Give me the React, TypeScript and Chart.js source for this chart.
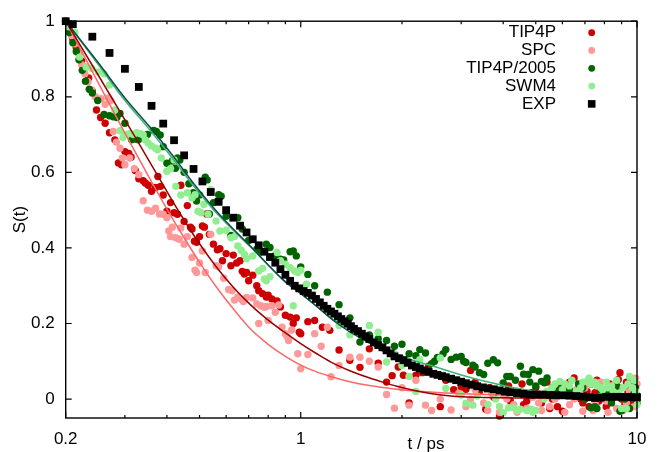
import React, { useEffect, useRef } from 'react';
import { Chart, registerables } from 'chart.js';

Chart.register(...registerables);

// ---------- axis ticks ----------
const X_LABEL_TICKS = [0.2, 1, 10];
const X_MINOR_TICKS = [0.3, 0.4, 0.5, 0.6, 0.7, 0.8, 0.9, 2, 3, 4, 5, 6, 7, 8, 9];
const Y_TICKS = [0, 0.2, 0.4, 0.6, 0.8, 1];

// ---------- series: [t (ps), S(t)] ----------
const TIP4P: [number, number][] = [
  [0.2, 1.0], [0.205, 0.975], [0.21, 0.953], [0.215, 0.93], [0.219, 0.915], [0.223, 0.895],
  [0.228, 0.878], [0.234, 0.85], [0.24, 0.815], [0.247, 0.765], [0.254, 0.745], [0.262, 0.73],
  [0.27, 0.705], [0.28, 0.686], [0.287, 0.625], [0.293, 0.62], [0.3, 0.655], [0.308, 0.65],
  [0.313, 0.64], [0.322, 0.605], [0.33, 0.583], [0.34, 0.578], [0.345, 0.572], [0.352, 0.566],
  [0.36, 0.55], [0.37, 0.56], [0.376, 0.589], [0.383, 0.563], [0.39, 0.54], [0.4, 0.497],
  [0.41, 0.52], [0.42, 0.493], [0.43, 0.489], [0.44, 0.566], [0.45, 0.47], [0.46, 0.512],
  [0.47, 0.455], [0.475, 0.45], [0.483, 0.418], [0.49, 0.415], [0.5, 0.43], [0.51, 0.458],
  [0.517, 0.455], [0.525, 0.49], [0.535, 0.436], [0.55, 0.41], [0.565, 0.395], [0.575, 0.398],
  [0.585, 0.366], [0.6, 0.385], [0.62, 0.353], [0.63, 0.381], [0.645, 0.36], [0.66, 0.366],
  [0.67, 0.338], [0.68, 0.331], [0.69, 0.335], [0.7, 0.313], [0.72, 0.328], [0.74, 0.3],
  [0.75, 0.287], [0.77, 0.279], [0.79, 0.27], [0.8, 0.275], [0.82, 0.265], [0.85, 0.26],
  [0.87, 0.244], [0.9, 0.222], [0.93, 0.217], [0.95, 0.2], [0.97, 0.215], [0.99, 0.177],
  [1.0, 0.173], [1.05, 0.205], [1.1, 0.208], [1.16, 0.19], [1.22, 0.182], [1.3, 0.13],
  [1.4, 0.103], [1.5, 0.084], [1.6, 0.133], [1.7, 0.095], [1.8, 0.045], [1.87, 0.062],
  [1.95, 0.085], [2.02, 0.063], [2.1, -0.01], [2.2, 0.063], [2.3, 0.07], [2.4, 0.087],
  [2.6, -0.02], [2.7, 0.05], [2.85, 0.025], [3.0, 0.032], [3.1, 0.026], [3.2, 0.076],
  [3.3, 0.045], [3.4, 0.02], [3.55, -0.027], [3.65, 0.03], [3.75, 0.005], [3.9, -0.045],
  [4.05, 0.01], [4.15, 0.035], [4.2, -0.005], [4.4, 0.02], [4.55, 0.04], [4.6, -0.015],
  [4.7, -0.005], [4.85, 0.017], [5.0, 0.03], [5.1, 0.012], [5.2, -0.01], [5.4, 0.045],
  [5.5, -0.025], [5.6, 0.0], [5.8, -0.02], [5.9, 0.02], [6.0, -0.032], [6.2, 0.01],
  [6.3, 0.045], [6.5, 0.056], [6.7, 0.03], [6.8, 0.0], [6.9, -0.01], [7.1, 0.02],
  [7.2, -0.02], [7.3, 0.04], [7.5, 0.017], [7.6, 0.05], [7.7, -0.005], [7.9, 0.025],
  [8.0, 0.0], [8.1, -0.02], [8.3, 0.04], [8.4, 0.01], [8.6, 0.03], [8.8, 0.052],
  [8.9, 0.07], [9.0, 0.0], [9.2, -0.015], [9.3, 0.045], [9.4, 0.02], [9.6, 0.034],
  [9.7, -0.01], [9.8, 0.05], [10.0, 0.01],
];

const SPC: [number, number][] = [
  [0.2, 1.0], [0.204, 0.98], [0.208, 0.962], [0.213, 0.94], [0.218, 0.915], [0.223, 0.885],
  [0.228, 0.861], [0.233, 0.84], [0.239, 0.818], [0.245, 0.8], [0.255, 0.795], [0.262, 0.78],
  [0.268, 0.797], [0.272, 0.79], [0.277, 0.708], [0.283, 0.68], [0.29, 0.664], [0.295, 0.638],
  [0.3, 0.62], [0.31, 0.638], [0.32, 0.61], [0.33, 0.594], [0.34, 0.525], [0.35, 0.5],
  [0.36, 0.497], [0.37, 0.505], [0.38, 0.49], [0.39, 0.489], [0.4, 0.48], [0.405, 0.445],
  [0.41, 0.43], [0.415, 0.455], [0.425, 0.427], [0.435, 0.423], [0.44, 0.453], [0.45, 0.41],
  [0.46, 0.43], [0.475, 0.375], [0.485, 0.341], [0.49, 0.335], [0.5, 0.36], [0.51, 0.392],
  [0.52, 0.335], [0.54, 0.436], [0.56, 0.353], [0.57, 0.35], [0.59, 0.32], [0.61, 0.29],
  [0.625, 0.287], [0.635, 0.262], [0.65, 0.27], [0.665, 0.265], [0.675, 0.258], [0.69, 0.269],
  [0.72, 0.268], [0.74, 0.252], [0.75, 0.2], [0.76, 0.247], [0.78, 0.243], [0.79, 0.245],
  [0.8, 0.208], [0.82, 0.247], [0.84, 0.23], [0.86, 0.249], [0.88, 0.19], [0.9, 0.173],
  [0.91, 0.166], [0.92, 0.155], [0.94, 0.183], [0.98, 0.12], [1.0, 0.08], [1.05, 0.118],
  [1.1, 0.173], [1.15, 0.14], [1.2, 0.19], [1.23, 0.059], [1.3, 0.089], [1.4, 0.111],
  [1.5, 0.111], [1.6, 0.1], [1.7, 0.085], [1.8, 0.012], [1.9, -0.024], [2.0, 0.03],
  [2.1, -0.016], [2.2, 0.05], [2.35, -0.016], [2.45, -0.03], [2.6, 0.0], [2.8, -0.029],
  [2.95, 0.015], [3.1, -0.02], [3.2, 0.0], [3.3, 0.025], [3.5, -0.01], [3.6, -0.03],
  [3.7, 0.015], [3.9, -0.035], [4.0, 0.01], [4.1, 0.0], [4.3, -0.015], [4.4, -0.035],
  [4.5, 0.02], [4.7, -0.025], [4.8, 0.01], [4.9, 0.005], [5.1, -0.01], [5.2, -0.03],
  [5.3, 0.015], [5.5, -0.02], [5.6, 0.01], [5.7, 0.0], [6.0, 0.01], [6.1, -0.035],
  [6.3, -0.015], [6.5, 0.0], [6.6, 0.025], [6.9, -0.032], [7.0, 0.03], [7.2, 0.005],
  [7.4, -0.03], [7.5, -0.01], [7.8, 0.045], [7.9, 0.01], [8.1, -0.005], [8.2, -0.035],
  [8.4, 0.02], [8.6, 0.04], [8.7, -0.025], [9.0, 0.03], [9.1, -0.03], [9.3, -0.01],
  [9.5, 0.02], [9.6, 0.05], [9.8, -0.02], [9.9, 0.055], [10.0, 0.04],
];

const TIP4P2005: [number, number][] = [
  [0.2, 1.0], [0.205, 0.97], [0.21, 0.943], [0.215, 0.92], [0.219, 0.898], [0.224, 0.87],
  [0.229, 0.841], [0.235, 0.82], [0.24, 0.81], [0.249, 0.79], [0.26, 0.753], [0.27, 0.75],
  [0.277, 0.747], [0.284, 0.745], [0.29, 0.756], [0.3, 0.73], [0.314, 0.686], [0.322, 0.688],
  [0.329, 0.686], [0.35, 0.7], [0.365, 0.711], [0.372, 0.708], [0.382, 0.699], [0.39, 0.668],
  [0.4, 0.624], [0.415, 0.63], [0.424, 0.611], [0.43, 0.638], [0.437, 0.633], [0.45, 0.6],
  [0.465, 0.57], [0.479, 0.546], [0.49, 0.524], [0.5, 0.54], [0.52, 0.587], [0.527, 0.58],
  [0.535, 0.49], [0.55, 0.52], [0.57, 0.541], [0.58, 0.537], [0.6, 0.484], [0.62, 0.433],
  [0.65, 0.48], [0.67, 0.45], [0.7, 0.42], [0.74, 0.397], [0.76, 0.39], [0.79, 0.41],
  [0.81, 0.401], [0.84, 0.38], [0.87, 0.37], [0.89, 0.368], [0.93, 0.39], [0.95, 0.392],
  [0.97, 0.379], [1.0, 0.35], [1.05, 0.33], [1.1, 0.3], [1.2, 0.283], [1.3, 0.25],
  [1.4, 0.215], [1.5, 0.151], [1.6, 0.17], [1.7, 0.16], [1.8, 0.155], [1.9, 0.14],
  [2.0, 0.145], [2.1, 0.12], [2.2, 0.115], [2.26, 0.131], [2.35, 0.122], [2.45, 0.094],
  [2.5, 0.1], [2.55, 0.11], [2.65, 0.12], [2.7, 0.131], [2.8, 0.105], [2.9, 0.111],
  [3.0, 0.113], [3.05, 0.1], [3.1, 0.097], [3.25, 0.09], [3.3, 0.085], [3.4, 0.07],
  [3.5, 0.065], [3.6, 0.095], [3.74, 0.104], [3.85, 0.096], [4.0, 0.043], [4.1, 0.06],
  [4.2, 0.06], [4.35, 0.05], [4.5, 0.087], [4.6, 0.066], [4.75, 0.065], [4.8, 0.045],
  [4.9, 0.078], [5.0, 0.035], [5.1, 0.074], [5.2, 0.047], [5.3, 0.043], [5.4, 0.056],
  [5.6, 0.03], [5.7, 0.02], [5.9, 0.035], [6.1, 0.03], [6.3, 0.025], [6.4, 0.01],
  [6.7, 0.04], [6.9, 0.03], [7.0, 0.0], [7.3, -0.023], [7.5, -0.02], [7.6, -0.025],
  [7.8, 0.025], [8.1, 0.01], [8.3, 0.02], [8.4, -0.01], [8.7, 0.035], [8.9, -0.032],
  [9.0, -0.03], [9.2, 0.0], [9.5, -0.025], [9.6, 0.04], [9.8, 0.015], [9.9, 0.03],
  [10.0, -0.01],
];

const SWM4: [number, number][] = [
  [0.2, 1.0], [0.205, 0.985], [0.213, 0.97], [0.22, 0.905], [0.23, 0.879], [0.239, 0.875],
  [0.25, 0.866], [0.26, 0.861], [0.27, 0.831], [0.28, 0.765], [0.29, 0.71], [0.296, 0.692],
  [0.302, 0.7], [0.31, 0.703], [0.318, 0.7], [0.325, 0.705], [0.333, 0.703], [0.34, 0.699],
  [0.345, 0.686], [0.352, 0.677], [0.36, 0.67], [0.37, 0.664], [0.375, 0.66], [0.385, 0.638],
  [0.4, 0.603], [0.41, 0.61], [0.42, 0.633], [0.425, 0.563], [0.44, 0.54], [0.46, 0.546],
  [0.475, 0.532], [0.485, 0.541], [0.495, 0.497], [0.505, 0.493], [0.515, 0.515], [0.53, 0.489],
  [0.54, 0.554], [0.56, 0.471], [0.575, 0.445], [0.6, 0.447], [0.62, 0.427], [0.635, 0.43],
  [0.65, 0.405], [0.665, 0.394], [0.68, 0.383], [0.69, 0.372], [0.72, 0.379], [0.75, 0.339],
  [0.77, 0.346], [0.78, 0.318], [0.79, 0.313], [0.81, 0.324], [0.85, 0.388], [0.87, 0.366],
  [0.9, 0.357], [0.93, 0.348], [0.95, 0.247], [0.96, 0.339], [0.98, 0.335], [1.0, 0.341],
  [1.02, 0.284], [1.04, 0.304], [1.1, 0.267], [1.2, 0.24], [1.3, 0.195], [1.4, 0.17],
  [1.5, 0.175], [1.6, 0.195], [1.7, 0.177], [1.8, 0.098], [1.9, 0.12], [2.0, 0.089],
  [2.1, 0.06], [2.2, 0.02], [2.26, 0.104], [2.4, 0.07], [2.6, 0.109], [2.7, 0.028],
  [2.85, 0.05], [3.0, 0.011], [3.1, -0.011], [3.25, -0.016], [3.35, 0.008], [3.5, 0.03],
  [3.6, -0.014], [3.8, 0.0], [3.9, -0.02], [4.0, -0.036], [4.15, -0.023], [4.3, -0.023],
  [4.4, -0.03], [4.5, -0.027], [4.7, -0.03], [4.85, -0.027], [4.9, -0.035], [5.0, -0.03],
  [5.2, 0.01], [5.3, 0.0], [5.4, 0.02], [5.6, 0.03], [5.7, 0.04], [5.9, 0.047],
  [6.0, 0.025], [6.1, 0.04], [6.3, 0.035], [6.4, 0.05], [6.6, 0.02], [6.8, 0.03],
  [6.9, 0.045], [7.1, 0.047], [7.2, 0.055], [7.3, 0.04], [7.5, 0.045], [7.6, 0.035],
  [7.8, 0.03], [7.9, 0.025], [8.1, 0.045], [8.2, 0.03], [8.4, 0.035], [8.5, 0.02],
  [8.7, 0.05], [8.8, 0.015], [9.0, -0.025], [9.1, 0.03], [9.3, -0.025], [9.4, 0.04],
  [9.5, 0.06], [9.7, 0.03], [9.8, 0.05], [9.9, 0.02], [10.0, -0.015],
];

const EXP: [number, number][] = [
  [0.2, 1.0], [0.21, 0.992], [0.24, 0.959], [0.27, 0.916], [0.3, 0.874], [0.33, 0.826],
  [0.36, 0.776], [0.39, 0.729], [0.42, 0.685], [0.45, 0.645], [0.48, 0.609], [0.51, 0.576],
  [0.54, 0.548], [0.57, 0.522], [0.6, 0.5], [0.63, 0.48], [0.66, 0.459], [0.69, 0.441],
  [0.72, 0.423], [0.75, 0.407], [0.78, 0.39], [0.81, 0.376], [0.84, 0.361], [0.87, 0.344],
  [0.9, 0.329], [0.93, 0.313], [0.96, 0.3], [0.99, 0.293], [1.02, 0.286], [1.05, 0.281],
  [1.08, 0.274], [1.11, 0.265], [1.14, 0.256], [1.17, 0.247], [1.2, 0.239], [1.23, 0.232],
  [1.26, 0.226], [1.29, 0.219], [1.32, 0.212], [1.35, 0.206], [1.38, 0.2], [1.41, 0.193],
  [1.44, 0.186], [1.48, 0.18], [1.52, 0.173], [1.56, 0.166], [1.6, 0.159], [1.65, 0.15],
  [1.7, 0.143], [1.75, 0.137], [1.8, 0.129], [1.85, 0.121], [1.9, 0.113], [1.96, 0.108],
  [2.02, 0.103], [2.08, 0.096], [2.14, 0.089], [2.2, 0.085], [2.26, 0.081], [2.33, 0.076],
  [2.4, 0.072], [2.48, 0.067], [2.55, 0.064], [2.63, 0.061], [2.7, 0.058], [2.8, 0.054],
  [2.9, 0.05], [3.0, 0.046], [3.1, 0.042], [3.22, 0.038], [3.35, 0.034], [3.48, 0.031],
  [3.6, 0.028], [3.75, 0.026], [3.9, 0.023], [4.05, 0.02], [4.2, 0.018], [4.4, 0.016],
  [4.6, 0.014], [4.8, 0.012], [5.0, 0.012], [5.25, 0.012], [5.5, 0.011], [5.75, 0.01],
  [6.0, 0.01], [6.3, 0.009], [6.6, 0.008], [6.9, 0.007], [7.2, 0.005], [7.5, 0.003],
  [7.8, 0.004], [8.1, 0.006], [8.4, 0.006], [8.7, 0.006], [9.0, 0.006], [9.3, 0.006],
  [9.6, 0.005], [10.0, 0.005],
];

// ---------- fitted curves ----------
const FIT_TIP4P: [number, number][] = [
  [0.2, 1.0], [0.25, 0.857], [0.3, 0.739], [0.333, 0.671], [0.382, 0.58], [0.42, 0.517],
  [0.46, 0.46], [0.5, 0.411], [0.562, 0.349], [0.63, 0.296], [0.708, 0.25], [0.79, 0.213],
  [0.888, 0.179], [1.0, 0.147], [1.116, 0.12], [1.23, 0.098], [1.4, 0.075], [1.54, 0.061],
  [1.75, 0.045], [1.93, 0.034], [2.2, 0.022], [2.43, 0.015], [2.75, 0.009], [3.05, 0.006],
  [3.5, 0.0044], [4.5, 0.003], [6.0, 0.0025], [10.0, 0.002],
];
const FIT_SPC: [number, number][] = [
  [0.2, 1.0], [0.25, 0.837], [0.3, 0.704], [0.356, 0.583], [0.4, 0.503], [0.45, 0.427],
  [0.5, 0.362], [0.562, 0.296], [0.63, 0.239], [0.708, 0.186], [0.8, 0.145], [0.9, 0.113],
  [1.0, 0.09], [1.1, 0.074], [1.226, 0.06], [1.4, 0.046], [1.6, 0.036], [1.9, 0.027],
  [2.3, 0.02], [3.0, 0.014], [4.0, 0.011], [6.0, 0.009], [10.0, 0.008],
];
const FIT_TIP4P2005: [number, number][] = [
  [0.2, 1.0], [0.25, 0.89], [0.3, 0.797], [0.356, 0.72], [0.42, 0.64], [0.479, 0.572],
  [0.562, 0.497], [0.63, 0.45], [0.708, 0.405], [0.8, 0.355], [0.888, 0.315], [1.0, 0.28],
  [1.116, 0.245], [1.25, 0.208], [1.4, 0.178], [1.54, 0.157], [1.75, 0.128], [2.0, 0.1],
  [2.5, 0.064], [3.0, 0.042], [3.5, 0.029], [4.0, 0.021], [5.0, 0.013], [7.0, 0.01],
  [10.0, 0.009],
];
const FIT_SWM4: [number, number][] = [
  [0.2, 1.0], [0.25, 0.885], [0.3, 0.79], [0.356, 0.712], [0.42, 0.632], [0.479, 0.565],
  [0.555, 0.497], [0.63, 0.447], [0.708, 0.403], [0.8, 0.355], [0.888, 0.315], [1.0, 0.279],
  [1.116, 0.246], [1.25, 0.211], [1.4, 0.183], [1.57, 0.156], [1.75, 0.136], [1.98, 0.116],
  [2.2, 0.1], [2.48, 0.087], [3.0, 0.064], [3.74, 0.042], [4.7, 0.024], [5.5, 0.016],
  [7.0, 0.011], [10.0, 0.009],
];

const FONT_FAMILY = "'Liberation Sans', Arial, Helvetica, sans-serif";
const FONT_SIZE = 17;
const DOT_R = 3.7;
const SQUARE_R = 5.5;

const toXY = (arr: [number, number][]) => arr.map(([x, y]) => ({ x, y }));

const scatterSet = (label: string, arr: [number, number][], color: string, order: number, style: string = 'circle') => ({
  type: 'scatter' as const,
  label,
  data: toXY(arr),
  showLine: false,
  pointStyle: style,
  pointRadius: style === 'rect' ? SQUARE_R : DOT_R,
  pointHoverRadius: style === 'rect' ? SQUARE_R : DOT_R,
  pointBorderWidth: 0,
  borderWidth: 0,
  backgroundColor: color,
  borderColor: color,
  clip: false as any,
  order,
  inLegend: true,
});

const fitSet = (label: string, arr: [number, number][], color: string) => ({
  type: 'line' as const,
  label,
  data: toXY(arr),
  showLine: true,
  pointRadius: 0,
  pointHoverRadius: 0,
  borderColor: color,
  backgroundColor: color,
  borderWidth: 1.5,
  fill: false,
  cubicInterpolationMode: 'monotone' as const,
  order: 1,
  inLegend: false,
});

const frameTicksPlugin = {
  id: 'frameTicks',
  afterDatasetsDraw(chart: any) {
    const { ctx, chartArea, scales } = chart;
    const { left, right, top, bottom } = chartArea;
    const x = scales.x;
    const y = scales.y;
    ctx.save();
    ctx.strokeStyle = '#000';
    ctx.lineWidth = 1.2;
    ctx.beginPath();
    const vTick = (v: number, len: number) => {
      const px = x.getPixelForValue(v);
      ctx.moveTo(px, bottom);
      ctx.lineTo(px, bottom - len);
      ctx.moveTo(px, top);
      ctx.lineTo(px, top + len);
    };
    X_MINOR_TICKS.forEach((v) => vTick(v, 3));
    X_LABEL_TICKS.forEach((v) => vTick(v, 6));
    Y_TICKS.forEach((v) => {
      const py = y.getPixelForValue(v);
      ctx.moveTo(left, py);
      ctx.lineTo(left + 6, py);
      ctx.moveTo(right, py);
      ctx.lineTo(right - 6, py);
    });
    ctx.stroke();
    ctx.lineWidth = 1.4;
    ctx.strokeRect(left, top, right - left, bottom - top);
    ctx.restore();
  },
};

const legendAndTitlePlugin = {
  id: 'customLegend',
  afterDraw(chart: any) {
    const { ctx } = chart;
    ctx.save();
    ctx.font = `${FONT_SIZE}px ${FONT_FAMILY}`;
    ctx.textBaseline = 'middle';
    ctx.textAlign = 'right';
    const items = chart.data.datasets.filter((d: any) => d.inLegend);
    items.forEach((d: any, i: number) => {
      const yc = 32.7 + i * 17.8;
      ctx.fillStyle = '#000';
      ctx.fillText(d.label, 556, yc);
      ctx.fillStyle = d.backgroundColor;
      if (d.pointStyle === 'rect') {
        ctx.fillRect(591.7 - 3.8, yc - 3.8, 7.6, 7.6);
      } else {
        ctx.beginPath();
        ctx.arc(591.7, yc, 3.4, 0, Math.PI * 2);
        ctx.fill();
      }
    });
    // x axis title
    ctx.fillStyle = '#000';
    ctx.textAlign = 'center';
    ctx.textBaseline = 'alphabetic';
    ctx.fillText('t / ps', 426, 449);
    ctx.restore();
  },
};

export default function App() {
  const ref = useRef<HTMLCanvasElement | null>(null);

  useEffect(() => {
    if (!ref.current) return;
    Chart.defaults.font.family = FONT_FAMILY;
    Chart.defaults.font.size = FONT_SIZE;
    Chart.defaults.color = '#000';

    const datasets: any[] = [
      scatterSet('TIP4P', TIP4P, '#cc0000', 5),
      scatterSet('SPC', SPC, '#ff9999', 4),
      scatterSet('TIP4P/2005', TIP4P2005, '#006400', 3),
      scatterSet('SWM4', SWM4, '#90ee90', 2),
      scatterSet('EXP', EXP, '#000000', 0, 'rect'),
      fitSet('TIP4P fit', FIT_TIP4P, '#990000'),
      fitSet('SPC fit', FIT_SPC, '#ff6666'),
      fitSet('TIP4P/2005 fit', FIT_TIP4P2005, '#114a50'),
      fitSet('SWM4 fit', FIT_SWM4, '#3cb371'),
    ];

    const chart = new Chart(ref.current, {
      type: 'scatter',
      data: { datasets },
      options: {
        animation: false,
        responsive: false,
        maintainAspectRatio: false,
        devicePixelRatio: 1,
        layout: { padding: { top: 18, right: 26, left: 0, bottom: 0 } },
        plugins: {
          legend: { display: false },
          tooltip: { enabled: false },
        },
        scales: {
          x: {
            type: 'logarithmic',
            min: 0.2,
            max: 10,
            grid: { display: false, drawTicks: false },
            border: { display: false },
            ticks: {
              padding: 11,
              color: '#000',
              autoSkip: false,
              maxRotation: 0,
              font: { size: FONT_SIZE },
              callback: (v: any) => String(v),
            },
            afterBuildTicks: (s: any) => {
              s.ticks = X_LABEL_TICKS.map((v) => ({ value: v }));
            },
            afterFit: (s: any) => {
              s.height = 34;
            },
          },
          y: {
            type: 'linear',
            min: -0.05,
            max: 1,
            grid: { display: false, drawTicks: false },
            border: { display: false },
            ticks: {
              padding: 11,
              color: '#000',
              font: { size: FONT_SIZE },
              callback: (v: any) => String(Math.round(Number(v) * 10) / 10),
            },
            afterBuildTicks: (s: any) => {
              s.ticks = Y_TICKS.map((v) => ({ value: v }));
            },
            afterFit: (s: any) => {
              s.width = 65.7;
            },
            title: {
              display: true,
              text: 'S(t)',
              color: '#000',
              font: { size: FONT_SIZE },
              padding: { top: 10, bottom: 0 },
            },
          },
        },
      } as any,
      plugins: [frameTicksPlugin, legendAndTitlePlugin],
    });

    return () => chart.destroy();
  }, []);

  return (
    <div style={{ position: 'fixed', left: 0, top: 0, width: 663, height: 452, background: '#fff' }}>
      <canvas ref={ref} width={663} height={452} style={{ display: 'block', width: 663, height: 452 }} />
    </div>
  );
}
